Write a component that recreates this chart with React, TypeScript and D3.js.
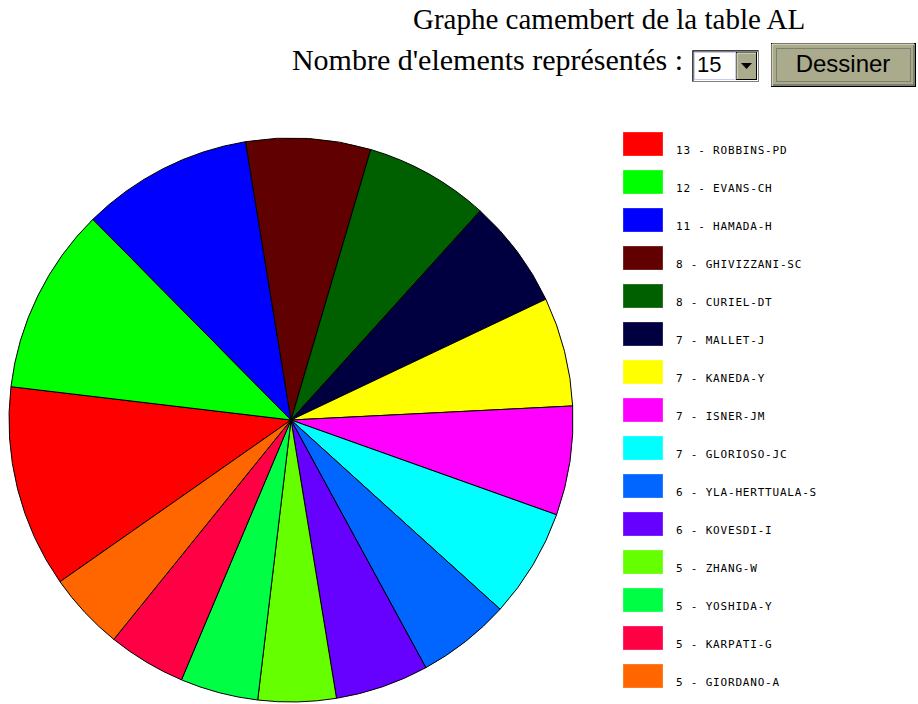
import React from "react";
import * as d3 from "d3";

const names = [
  "ROBBINS-PD", "EVANS-CH", "HAMADA-H", "GHIVIZZANI-SC", "CURIEL-DT",
  "MALLET-J", "KANEDA-Y", "ISNER-JM", "GLORIOSO-JC", "YLA-HERTTUALA-S",
  "KOVESDI-I", "ZHANG-W", "YOSHIDA-Y", "KARPATI-G", "GIORDANO-A",
];
const counts = [13, 12, 11, 8, 8, 7, 7, 7, 7, 6, 6, 5, 5, 5, 5];
const colors = [
  "#ff0000", "#00ff00", "#0000ff", "#600000", "#006000",
  "#000040", "#ffff00", "#ff00ff", "#00ffff", "#0066ff",
  "#6600ff", "#66ff00", "#00ff44", "#ff0044", "#ff6600",
];
const title = "Graphe camembert de la table AL";
const prompt = "Nombre d'elements représentés :";
const selectValue = "15";
const buttonLabel = "Dessiner";

export default function App() {
  const W = 918, H = 704;
  const cx = 291, cy = 420, r = 282;
  const start = (235 * Math.PI) / 180;
  const data = counts.map((v, i) => ({ v, name: names[i], color: colors[i] }));
  const pie = d3.pie<any>().value((d) => d.v).sort(null).startAngle(start).endAngle(start + 2 * Math.PI);
  const arcs = pie(data);
  const arc = d3.arc<any>().innerRadius(0).outerRadius(r);
  const legendY = d3.scaleLinear().domain([0, 1]).range([132, 170]);

  const khaki = "#aaaa8c";
  return (
    <svg width={W} height={H} style={{ position: "absolute", left: 0, top: 0, background: "#fff" }}>
      <text x={413} y={29} fontFamily="'Liberation Serif', serif" fontSize={29} fill="#000">{title}</text>
      <text x={683} y={70} textAnchor="end" fontFamily="'Liberation Serif', serif" fontSize={30} fill="#000">{prompt}</text>

      {/* select */}
      <rect x={692.5} y={50.5} width={66} height={31} fill="#fff" stroke="#808080" />
      <line x1={693} y1={51} x2={693} y2={81} stroke="#000" />
      <line x1={693} y1={51} x2={758} y2={51} stroke="#000" />
      <rect x={694.5} y={52.5} width={41} height={27} fill="#fff" stroke="#c8c8f0" />
      <text x={697} y={72} fontFamily="'Liberation Sans', Arial, sans-serif" fontSize={22} fill="#000">{selectValue}</text>
      <rect x={736.5} y={52.5} width={20} height={27} fill={khaki} stroke="#000" />
      <line x1={737} y1={53} x2={756} y2={53} stroke="#e8e8d8" />
      <line x1={737} y1={53} x2={737} y2={79} stroke="#e8e8d8" />
      <path d="M741,63 L752,63 L746.5,69 Z" fill="#000" />

      {/* button */}
      <rect x={771.5} y={43.5} width={144} height={43} fill={khaki} stroke="#000" />
      <line x1={772} y1={44} x2={914} y2={44} stroke="#f0f0e0" />
      <line x1={772} y1={44} x2={772} y2={86} stroke="#f0f0e0" />
      <line x1={914} y1={45} x2={914} y2={86} stroke="#555" />
      <line x1={773} y1={85} x2={914} y2={85} stroke="#555" />
      <rect x={776.5} y={48.5} width={134} height={33} fill="none" stroke="#555" strokeDasharray="1,1" />
      <text x={843} y={72} textAnchor="middle" fontFamily="'Liberation Sans', Arial, sans-serif" fontSize={24} fill="#000">{buttonLabel}</text>

      {/* pie */}
      <g transform={`translate(${cx},${cy})`}>
        {arcs.map((a, i) => (
          <path key={i} d={arc(a) || ""} fill={a.data.color} stroke="#000" strokeWidth={1} strokeLinejoin="round" />
        ))}
      </g>

      {/* legend */}
      {data.map((d, i) => (
        <g key={i} transform={`translate(0,${legendY(i)})`}>
          <rect x={623} y={0} width={40} height={24} fill={d.color} stroke="#ffffff" strokeOpacity={0.3} />
          <text x={676} y={22} fontFamily="'DejaVu Sans Mono', monospace" fontSize={11} letterSpacing={0.8} fill="#000">
            {`${d.v} - ${d.name}`}
          </text>
        </g>
      ))}
    </svg>
  );
}
